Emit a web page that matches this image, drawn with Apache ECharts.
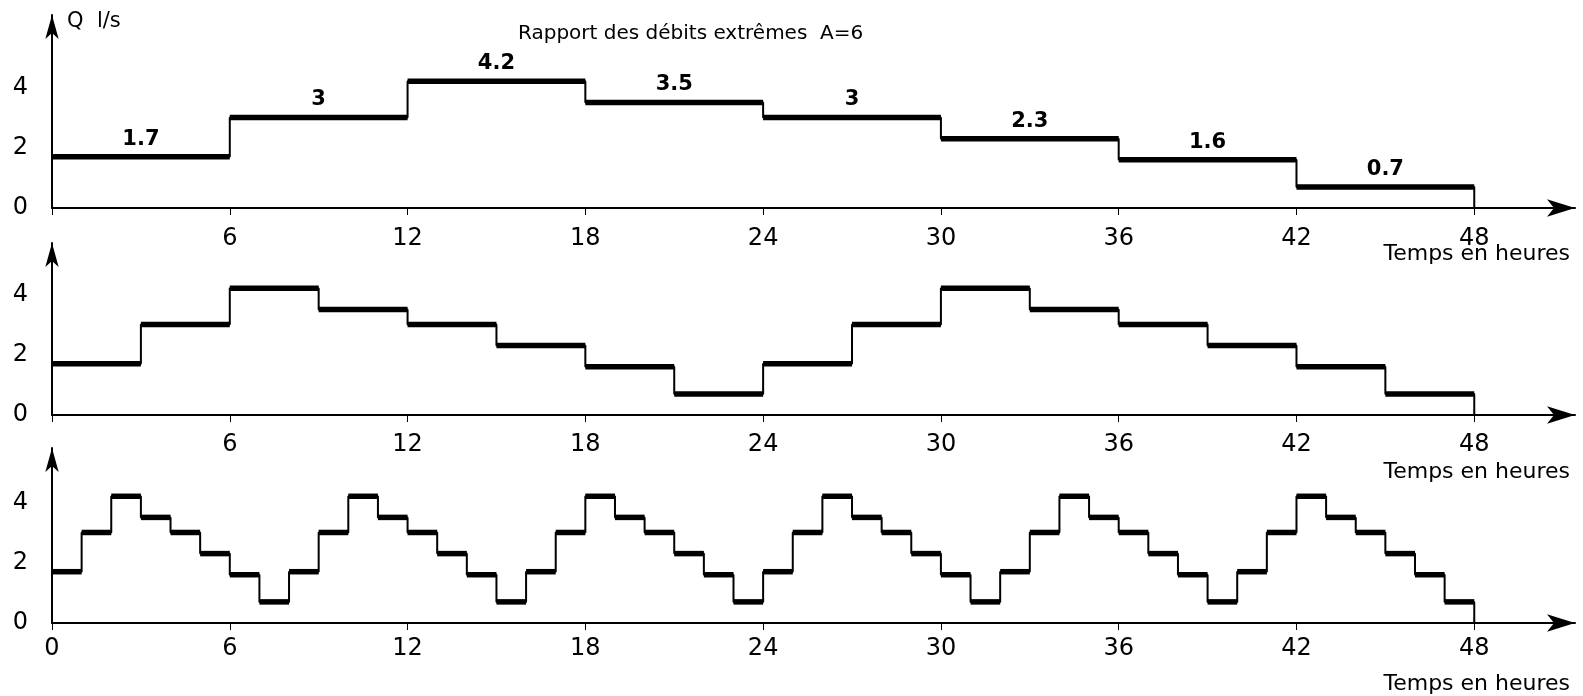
<!DOCTYPE html>
<html>
<head>
<meta charset="utf-8">
<script src="https://cdn.jsdelivr.net/npm/echarts@6/dist/echarts.min.js"></script>
<style>html,body{margin:0;padding:0;background:#fff}#c{width:1583px;height:696px}</style>
</head>
<body>
<div id="c"></div>
<script>
// ---- data ----
const topValues = [1.7, 3, 4.2, 3.5, 3, 2.3, 1.6, 0.7];          // 6-hour steps
const midValues = [1.7, 3, 4.2, 3.5, 3, 2.3, 1.6, 0.7,
                   1.7, 3, 4.2, 3.5, 3, 2.3, 1.6, 0.7];          // 3-hour steps
const botValues = [1.7, 3, 4.2, 3.5, 3, 2.3, 1.6, 0.7,
                   1.7, 3, 4.2, 3.5, 3, 2.3, 1.6, 0.7,
                   1.7, 3, 4.2, 3.5, 3, 2.3, 1.6, 0.7,
                   1.7, 3, 4.2, 3.5, 3, 2.3, 1.6, 0.7,
                   1.7, 3, 4.2, 3.5, 3, 2.3, 1.6, 0.7,
                   1.7, 3, 4.2, 3.5, 3, 2.3, 1.6, 0.7];          // 1-hour steps
const stepHours = [6, 3, 1];
const xTicks = [0, 6, 12, 18, 24, 30, 36, 42, 48];
const yTicks = [0, 2, 4];
const subtitle = 'Rapport des débits extrêmes  A=6';
const yName = 'Q  l/s';
const xName = 'Temps en heures';

// ---- build ----
const FONT = 'DejaVu Sans';
const INK = '#000';
const panels = [topValues, midValues, botValues];
const grids = [
  {left: 52, right: 8, top: 15, height: 193},
  {left: 52, right: 8, top: 243, height: 172},
  {left: 52, right: 8, top: 448, height: 175}
];
const yMax = [6.4, 5.7, 5.8];
const xLabelMargin = [19, 18, 14];

const xAxes = [], yAxes = [], series = [];
panels.forEach((vals, p) => {
  const d = stepHours[p];
  const showZero = p === 2;
  xAxes.push({
    gridIndex: p, type: 'value', min: 0, max: 51.4, interval: 6,
    axisLine: {show: true, onZero: true, lineStyle: {color: INK, width: 2},
      symbol: ['none', 'arrow'], symbolSize: [13, 28]},
    axisTick: {show: true, length: 7, lineStyle: {color: INK, width: 1}},
    axisLabel: {
      color: INK, fontFamily: FONT, fontSize: 24, margin: xLabelMargin[p],
      showMaxLabel: false,
      formatter: v => (xTicks.indexOf(v) >= 0 && (v !== 0 || showZero)) ? String(v) : ''
    },
    splitLine: {show: false}
  });
  yAxes.push({
    gridIndex: p, type: 'value', min: 0, max: yMax[p], interval: 2,
    axisLine: {show: true, lineStyle: {color: INK, width: 2},
      symbol: ['none', 'arrow'], symbolSize: [10, 24]},
    axisTick: {show: false},
    axisLabel: {
      color: INK, fontFamily: FONT, fontSize: 24, margin: 24, showMaxLabel: false,
      formatter: v => yTicks.indexOf(v) >= 0 ? String(v) : ''
    },
    splitLine: {show: false}
  });
  // thin step outline (verticals)
  const stepData = vals.map((v, i) => [i * d, v]);
  stepData.push([vals.length * d, vals[vals.length - 1]]);
  stepData.push([vals.length * d, 0]);
  series.push({
    type: 'line', xAxisIndex: p, yAxisIndex: p, step: 'end',
    data: stepData, symbol: 'none', silent: true,
    lineStyle: {color: INK, width: 2}
  });
  // thick horizontal plateaus
  series.push({
    type: 'custom', xAxisIndex: p, yAxisIndex: p, silent: true,
    data: vals.map((v, i) => [i * d, (i + 1) * d, v]),
    renderItem: (params, api) => {
      const a = api.coord([api.value(0), api.value(2)]);
      const b = api.coord([api.value(1), api.value(2)]);
      return {type: 'line', shape: {x1: a[0], y1: a[1], x2: b[0], y2: b[1]},
        style: {stroke: INK, lineWidth: 5.5}};
    }
  });
});
// value labels on the top panel
series.push({
  type: 'scatter', xAxisIndex: 0, yAxisIndex: 0, symbolSize: 0, silent: true,
  itemStyle: {opacity: 1, color: INK},
  data: topValues.map((v, i) => [(i + 0.5) * stepHours[0], v]),
  label: {show: true, position: 'top', distance: 7, color: INK,
    fontFamily: FONT, fontSize: 21, fontWeight: 'bold', formatter: p => String(p.value[1])}
});

const chart = echarts.init(document.getElementById('c'), null, {renderer: 'canvas'});
chart.setOption({
  backgroundColor: '#fff',
  animation: false,
  grid: grids,
  xAxis: xAxes,
  yAxis: yAxes,
  title: [
    {text: yName, left: 62, top: 6, textStyle: {fontFamily: FONT, fontSize: 21, fontWeight: 'normal', color: INK}},
    {text: subtitle, left: 513, top: 19, textStyle: {fontFamily: FONT, fontSize: 20, fontWeight: 'normal', color: INK}},
    {text: xName, right: 8, top: 238, textStyle: {fontFamily: FONT, fontSize: 22, fontWeight: 'normal', color: INK}},
    {text: xName, right: 8, top: 456, textStyle: {fontFamily: FONT, fontSize: 22, fontWeight: 'normal', color: INK}},
    {text: xName, right: 8, top: 668, textStyle: {fontFamily: FONT, fontSize: 22, fontWeight: 'normal', color: INK}}
  ],
  series: series
});
</script>
</body>
</html>
